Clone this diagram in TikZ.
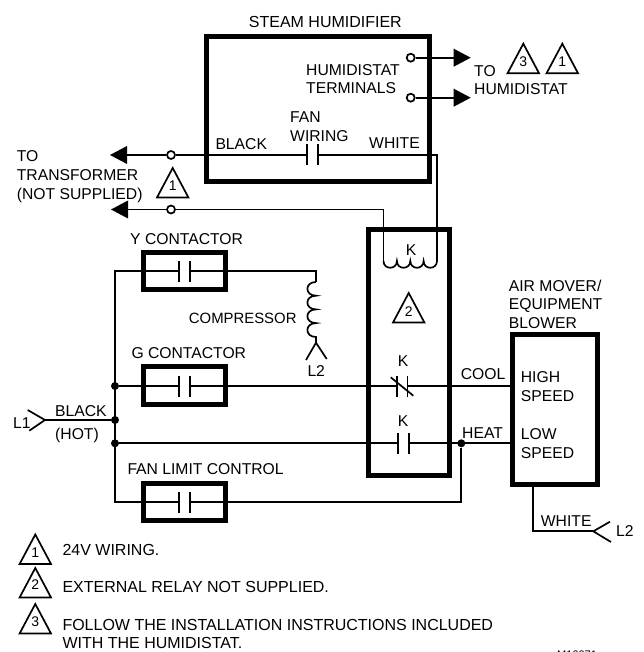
\documentclass[tikz,border=0pt]{standalone}
\usepackage{fontspec}
\setmainfont{Liberation Sans}
\tikzset{
  x=1pt,y=-1pt,
  wire/.style={line width=1.7pt,line cap=butt,line join=miter},
  heavy/.style={draw,line width=5pt,line join=miter,fill=none},
  lbl/.style={anchor=west,inner sep=0pt,text height=11pt,text depth=0pt,font=\fontsize{15.7}{18}\selectfont},
  lblwide/.style={lbl,font=\fontsize{16}{18}\selectfont},
  lblc/.style={lbl,anchor=center},
  num/.style={anchor=center,inner sep=0pt,font=\fontsize{14}{15}\selectfont},
  term/.style={circle,draw,fill=white,line width=1.7pt,minimum size=8pt,inner sep=0pt},
  junction/.style={circle,fill=black,minimum size=8pt,inner sep=0pt},
  tip/.style={fill=black,draw=none},
}
\newcommand{\flag}[4]{% apex x, apex y, number, number y
  \draw[wire,line join=miter] (#1,#2) -- (#1+15.7,#2+29.5) -- (#1-15.7,#2+29.5) -- cycle;
  \node[num] (flag#1n#2) at (#1,#4) {#3};
}
\newcommand{\contact}[3]{% x1, x2, y center
  \draw[wire,fill=none] (#1,#3-10.5) -- (#1,#3+10.5);
  \draw[wire,fill=none] (#2,#3-10.5) -- (#2,#3+10.5);
}
\begin{document}
\begin{tikzpicture}
\useasboundingbox (0,0) rectangle (643,652);
\begin{scope}
\clip (0,0) rectangle (643,652);
% coordinates
\coordinate (arrA) at (110,155);
\coordinate (arrB) at (111,209.5);
\coordinate (whiteX) at (437,155);
\coordinate (coilL) at (383.5,261);
\coordinate (coilR) at (437,261);
\coordinate (busT) at (115,271.3);
\coordinate (busB) at (115,502);
\coordinate (compTop) at (316,271.3);
\coordinate (compBot) at (316,342.7);
\coordinate (l1v) at (45,420);
\coordinate (fanR) at (461.3,502);
\coordinate (blwX) at (532.7,486);
\coordinate (blwC) at (532.7,531.3);
\coordinate (l2v) at (593.3,531.3);
% wires
\node[term] (t1) at (171,155) {};
\node[term] (t2) at (171,209.5) {};
\node[term] (t3) at (410.7,57.7) {};
\node[term] (t4) at (410.7,97.7) {};
\node[junction] (j1) at (115,386) {};
\node[junction] (j2) at (115,420) {};
\node[junction] (j3) at (115,443.3) {};
\node[junction] (j4) at (461.3,443.3) {};
\draw[wire] (arrA) ++(15,0) -- (t1);
\draw[wire] (arrB) ++(15,0) -- (t2);
\draw[wire] (t1) -- (307,155);
\draw[wire] (318,155) -- (whiteX) -- (coilR);
\draw[wire] (t2) -- (383.5,209.5) -- (coilL);
\draw[wire] (coilL) .. controls (383.5,270) and (396.9,270) .. (396.9,261)
  .. controls (396.9,270) and (410.3,270) .. (410.3,261)
  .. controls (410.3,270) and (423.6,270) .. (423.6,261)
  .. controls (423.6,270) and (437,270) .. (coilR);
\draw[wire] (t3) -- (453.5,57.7);
\draw[wire] (t4) -- (453.5,97.7);
\draw[wire] (179,271.3) -| (busT) -- (busB) -- (179,502);
\draw[wire] (190,271.3) -- (compTop) -- (316,282);
\draw[wire] (316,282) .. controls (304.5,282) and (304.5,295.7) .. (316,295.7)
  .. controls (304.5,295.7) and (304.5,309.4) .. (316,309.4)
  .. controls (304.5,309.4) and (304.5,323.1) .. (316,323.1)
  .. controls (304.5,323.1) and (304.5,337) .. (316,337) -- (compBot);
\draw[wire] (306,360) -- (compBot) -- (326.7,359);
\draw[wire] (j1) -- (179,386);
\draw[wire] (190,386) -- (397,386);
\draw[wire] (407.5,386) -- (512,386);
\draw[wire] (j3) -- (397.7,443.3);
\draw[wire] (409,443.3) -- (512,443.3);
\draw[wire] (190,502) -- (fanR) -- (j4);
\draw[wire] (l1v) -- (j2);
\draw[wire] (27.7,410) -- (l1v) -- (29.3,430.7);
\draw[wire] (blwX) -- (blwC) -- (l2v);
\draw[wire] (610,521.7) -- (l2v) -- (611,542);
% arrows
\fill[tip] (arrA) -- ++(17,-9) -- ++(0,18) -- cycle;
\fill[tip] (arrB) -- ++(17,-9) -- ++(0,18) -- cycle;
\fill[tip] (470.7,57.7) -- ++(-17,-9) -- ++(0,18) -- cycle;
\fill[tip] (470.7,97.7) -- ++(-17,-9) -- ++(0,18) -- cycle;
% boxes
\draw[heavy] (206.5,36.5) rectangle (429.5,181.5);
\draw[heavy] (368.5,229.5) rectangle (449.5,475);
\draw[heavy] (143.5,252.5) rectangle (225.5,289.5);
\draw[heavy] (143.5,366.8) rectangle (225.5,404.8);
\draw[heavy] (143.5,483.2) rectangle (225.5,520.8);
\draw[heavy] (512.5,334) rectangle (597.5,484);
% contacts
\contact{307}{318}{155}
\contact{179}{190}{271.3}
\contact{179}{190}{386}
\contact{179}{190}{502}
\contact{397.7}{409}{443.3}
\contact{397}{407.5}{386.5}
\draw[wire] (390.7,377.3) -- (413.3,395.7);
% flags
\flag{172.7}{168}{1}{186}
\flag{523.3}{43.7}{3}{61.3}
\flag{562.3}{43.7}{1}{61.3}
\flag{408.7}{293}{2}{311.7}
\flag{35.3}{534.5}{1}{553}
\flag{35.3}{568}{2}{585}
\flag{35.3}{604}{3}{621.7}
% labels
\node[lblwide] (a1) at (248.7,21.7) {STEAM HUMIDIFIER};
\node[lbl] (a2) at (306,69.7) {HUMIDISTAT};
\node[lbl] (a3) at (306,88.3) {TERMINALS};
\node[lbl] (a4) at (290,117.3) {FAN};
\node[lbl] (a5) at (290,136) {WIRING};
\node[lbl] (a6) at (215.3,144.3) {BLACK};
\node[lbl] (a7) at (369,142.7) {WHITE};
\node[lbl] (a8) at (474,70.7) {TO};
\node[lbl] (a9) at (474,89.3) {HUMIDISTAT};
\node[lbl] (b1) at (16.7,156) {TO};
\node[lbl] (b2) at (16.7,175) {TRANSFORMER};
\node[lbl] (b3) at (16.7,194) {(NOT SUPPLIED)};
\node[lbl] (b4) at (130,238.7) {Y CONTACTOR};
\node[lbl,font=\fontsize{14.9}{18}\selectfont] (b5) at (188.7,317.7) {COMPRESSOR};
\node[lbl] (b6) at (131.3,353.3) {G CONTACTOR};
\node[lbl] (b7) at (127.3,469.3) {FAN LIMIT CONTROL};
\node[lbl] (b8) at (307.3,370.7) {L2};
\node[lbl] (c1) at (55,410.7) {BLACK};
\node[lbl] (c2) at (55,434) {(HOT)};
\node[lbl] (c3) at (13,423) {L1};
\node[lblc] (k1) at (411,249.5) {K};
\node[lblc] (k2) at (403,360.7) {K};
\node[lblc] (k3) at (403,420.6) {K};
\node[lbl] (d1) at (460.7,374) {COOL};
\node[lbl] (d2) at (462,432.7) {HEAT};
\node[lbl] (e1) at (508.7,285.7) {AIR MOVER/};
\node[lbl] (e2) at (508.7,304.3) {EQUIPMENT};
\node[lbl] (e3) at (508.7,322.7) {BLOWER};
\node[lbl] (f1) at (520.7,377) {HIGH};
\node[lbl] (f2) at (520.7,396) {SPEED};
\node[lbl] (f3) at (520.7,434) {LOW};
\node[lbl] (f4) at (520.7,453) {SPEED};
\node[lbl] (g1) at (540.7,520.7) {WHITE};
\node[lbl] (g2) at (616,531) {L2};
\node[lblwide] (h1) at (62.3,550) {24V WIRING.};
\node[lblwide] (h2) at (62.3,587.3) {EXTERNAL RELAY NOT SUPPLIED.};
\node[lblwide] (h3) at (62.3,624.7) {FOLLOW THE INSTALLATION INSTRUCTIONS INCLUDED};
\node[lblwide] (h4) at (62.3,643.3) {WITH THE HUMIDISTAT.};
\node[anchor=west,inner sep=0pt,text height=8pt,text depth=0pt,font=\fontsize{11}{13}\selectfont] (m1) at (557,654) {M16071};
\end{scope}
\end{tikzpicture}
\end{document}
